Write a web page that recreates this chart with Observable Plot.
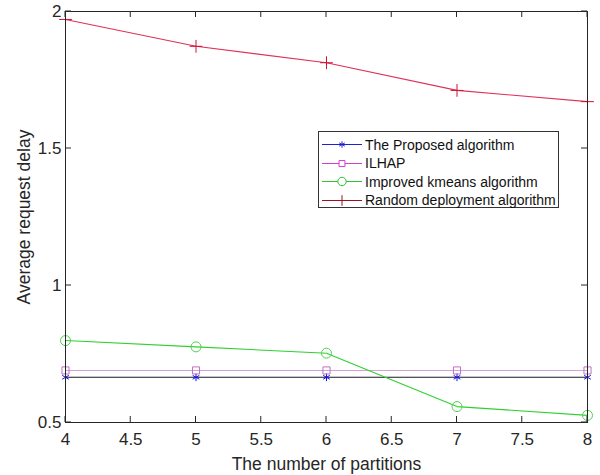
<!DOCTYPE html>
<html>
<head>
<meta charset="utf-8">
<script src="https://cdn.jsdelivr.net/npm/d3@7"></script>
<script src="https://cdn.jsdelivr.net/npm/@observablehq/plot@0.6"></script>
<style>
  body { margin: 0; background: #fff; font-family: "Liberation Sans", Arial, sans-serif; }
  #wrap { position: relative; width: 600px; height: 475px; }
  #legend { position: absolute; left: 318px; top: 131px; width: 241px; height: 77px; border: 1px solid #333; background: #fff; box-sizing: border-box; }
  .row { position: absolute; left: 0; height: 19px; display: flex; align-items: center; font-size: 14px; color: #111; }
  .row svg { margin-right: 2px; }
</style>
</head>
<body>
<div id="wrap"></div>
<script>
const partitions = [4, 5, 6, 7, 8];
const proposed = [0.665, 0.665, 0.665, 0.665, 0.665];
const ilhap = [0.69, 0.69, 0.69, 0.69, 0.69];
const kmeans = [0.799, 0.776, 0.753, 0.558, 0.526];
const randomDep = [1.971, 1.873, 1.813, 1.712, 1.671];
const xTicks = [4, 4.5, 5, 5.5, 6, 6.5, 7, 7.5, 8];
const yTicks = [0.5, 1, 1.5, 2];

const seriesDefs = [
  {name: "The Proposed algorithm", values: proposed, line: "#1a1a2a", mark: "#1010ee", symbol: "asterisk", legendLine: "#2020d0", r: 3.6},
  {name: "ILHAP", values: ilhap, line: "#d8a0d8", mark: "#c070c0", symbol: "square", legendLine: "#d040d0", r: 4},
  {name: "Improved kmeans algorithm", values: kmeans, line: "#30d030", mark: "#50d050", symbol: "circle", legendLine: "#30c030", r: 5},
  {name: "Random deployment algorithm", values: randomDep, line: "#e0305a", mark: "#d01030", symbol: "plus", legendLine: "#a01020", r: 4.2}
];

const W = 600, H = 475, ML = 65, MR = 13, MT = 11, MB = 53;
const TL = 6;

const marks = [];
for (const s of seriesDefs) {
  const data = partitions.map((x, i) => ({x, y: s.values[i]}));
  marks.push(Plot.line(data, {x: "x", y: "y", stroke: s.line, strokeWidth: 1.1}));
  marks.push(Plot.dot(data, {x: "x", y: "y", stroke: s.mark, symbol: s.symbol, r: s.r, strokeWidth: 1}));
}

const chart = Plot.plot({
  width: W,
  height: H,
  marginLeft: ML,
  marginRight: MR,
  marginTop: MT,
  marginBottom: MB,
  style: {fontFamily: "Liberation Sans, Arial, sans-serif", background: "#fff"},
  x: {domain: [4, 8]},
  y: {domain: [0.5, 2]},
  marks: [
    Plot.axisX({ticks: xTicks, tickSize: 0, tickPadding: 10, fontSize: 17, tickFormat: d => String(d), label: "The number of partitions", labelAnchor: "center", labelArrow: "none", labelOffset: 47, color: "#262626"}),
    Plot.axisY({ticks: yTicks, tickSize: 0, tickPadding: 4, fontSize: 17, tickFormat: d => String(d), label: "Average request delay", labelAnchor: "center", labelArrow: "none", labelOffset: 48, color: "#262626"}),
    ...marks,
    Plot.frame({stroke: "#262626"})
  ]
});

chart.querySelectorAll("g[aria-label='x-axis label'], g[aria-label='y-axis label']").forEach(g => {
  g.setAttribute("font-size", "17.5");
  g.querySelectorAll("text").forEach(t => t.setAttribute("font-size", "17.5"));
});

// inward tick marks placed with the chart's own scales
const xs = chart.scale("x"), ys = chart.scale("y");
const svgNS = "http://www.w3.org/2000/svg";
const tg = document.createElementNS(svgNS, "g");
tg.setAttribute("stroke", "#262626");
tg.setAttribute("stroke-width", "1");
const addLine = (x1, y1, x2, y2) => {
  const l = document.createElementNS(svgNS, "line");
  l.setAttribute("x1", x1); l.setAttribute("y1", y1);
  l.setAttribute("x2", x2); l.setAttribute("y2", y2);
  tg.appendChild(l);
};
const frameTop = MT, frameBottom = H - MB, frameLeft = ML, frameRight = W - MR;
for (const t of xTicks) {
  const px = xs.apply(t);
  addLine(px, frameBottom, px, frameBottom - TL);
  addLine(px, frameTop, px, frameTop + TL);
}
for (const t of yTicks) {
  const py = ys.apply(t);
  addLine(frameLeft, py, frameLeft + TL, py);
  addLine(frameRight, py, frameRight - TL, py);
}
chart.appendChild(tg);

const wrap = document.getElementById("wrap");
wrap.appendChild(chart);

const legend = document.createElement("div");
legend.id = "legend";
const legendSyms = {asterisk: d3.symbolAsterisk, square: d3.symbolSquare, circle: d3.symbolCircle, plus: d3.symbolPlus};
seriesDefs.forEach((s, i) => {
  const row = document.createElement("div");
  row.className = "row";
  row.style.top = (3 + i * 18.5) + "px";
  const svg = document.createElementNS(svgNS, "svg");
  svg.setAttribute("width", 44);
  svg.setAttribute("height", 19);
  const ln = document.createElementNS(svgNS, "line");
  ln.setAttribute("x1", 3); ln.setAttribute("x2", 43);
  ln.setAttribute("y1", 9.5); ln.setAttribute("y2", 9.5);
  ln.setAttribute("stroke", s.legendLine);
  svg.appendChild(ln);
  const p = document.createElementNS(svgNS, "path");
  p.setAttribute("d", d3.symbol(legendSyms[s.symbol], Math.PI * s.r * s.r * 0.7)());
  p.setAttribute("transform", "translate(23,9.5)");
  p.setAttribute("fill", s.symbol === "square" || s.symbol === "circle" ? "#fff" : "none");
  p.setAttribute("stroke", s.legendLine);
  svg.appendChild(p);
  row.appendChild(svg);
  const span = document.createElement("span");
  span.textContent = s.name;
  row.appendChild(span);
  legend.appendChild(row);
});
wrap.appendChild(legend);
</script>
</body>
</html>
